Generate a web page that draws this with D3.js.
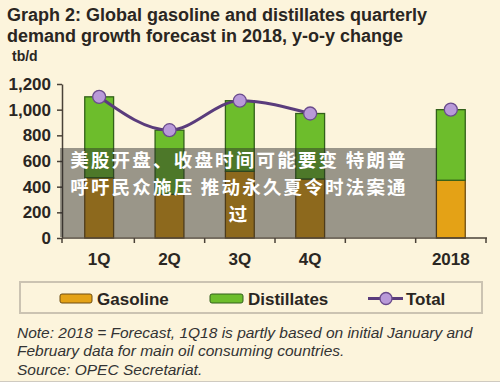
<!DOCTYPE html>
<html>
<head>
<meta charset="utf-8">
<style>
  body { margin: 0; background: #fff; }
  svg { display: block; font-family: "Liberation Sans", Arial, sans-serif; }
  .axis path, .axis line { stroke: #4a4238; stroke-width: 1.5px; }
  .axis text { font-size: 17px; font-weight: bold; fill: #2a2622; }
  .note { font-size: 15.5px; font-style: italic; fill: #333; }
</style>
</head>
<body>
<svg width="500" height="385"></svg>
<script src="https://d3js.org/d3.v7.min.js"></script>
<script>
// data (tb/d, y-o-y change)
var slots = ["1Q", "2Q", "3Q", "4Q", "", "2018"];
var categories = ["1Q", "2Q", "3Q", "4Q", "2018"];
var gasoline = [470, 340, 520, 460, 450];
var distillates = [630, 500, 550, 510, 550];
var total = [1100, 840, 1070, 970, 1000];
var yTicks = [0, 200, 400, 600, 800, 1000, 1200];
var titleLines = ["Graph 2: Global gasoline and distillates quarterly",
                  "demand growth forecast in 2018, y-o-y change"];
var noteLines = ["Note: 2018 = Forecast, 1Q18 is partly based on initial January and",
                 "February data for main oil consuming countries.",
                 "Source: OPEC Secretariat."];
var overlayLines = ["美股开盘、收盘时间可能要变 特朗普",
                    "呼吁民众施压 推动永久夏令时法案通",
                    "过"];

var svg = d3.select("svg");

// background
svg.append("rect").attr("width", 500).attr("height", 381).attr("fill", "#fcf4dc");
svg.append("line").attr("x1", 0).attr("x2", 500).attr("y1", 381.5).attr("y2", 381.5)
    .attr("stroke", "#cfcac0");

// title
svg.append("g").selectAll("text").data(titleLines).enter().append("text")
    .attr("x", 7).attr("y", function(d, i) { return 21 + i * 21; })
    .attr("font-size", 18).attr("font-weight", "bold").attr("fill", "#2a2622")
    .text(function(d) { return d; });

svg.append("text").attr("x", 12).attr("y", 61)
    .attr("font-size", 14).attr("font-weight", "bold").attr("fill", "#2a2622")
    .text("tb/d");

// scales
var x = d3.scaleBand().domain(slots).range([64, 486]).paddingInner(0.59).paddingOuter(0.295);
var y = d3.scaleLinear().domain([0, 1200]).range([238, 84]);

var rows = categories.map(function(c, i) {
    return { cat: c, gas: gasoline[i], dist: distillates[i], total: total[i] };
});

// bars
var bars = svg.append("g");
bars.selectAll(".gas").data(rows).enter().append("rect")
    .attr("x", function(d) { return x(d.cat); })
    .attr("width", x.bandwidth())
    .attr("y", function(d) { return y(d.gas); })
    .attr("height", function(d) { return y(0) - y(d.gas); })
    .attr("fill", "#e4a216").attr("stroke", "#6e4d10").attr("stroke-width", 1.3);
bars.selectAll(".dist").data(rows).enter().append("rect")
    .attr("x", function(d) { return x(d.cat); })
    .attr("width", x.bandwidth())
    .attr("y", function(d) { return y(d.gas + d.dist); })
    .attr("height", function(d) { return y(d.gas) - y(d.gas + d.dist); })
    .attr("fill", "#6dbd2c").attr("stroke", "#32601a").attr("stroke-width", 1.3);

// y axis
svg.append("g").attr("class", "axis")
    .attr("transform", "translate(62,0)")
    .call(d3.axisLeft(y).tickValues(yTicks).tickFormat(d3.format(",")).tickSizeInner(5).tickSizeOuter(0).tickPadding(6));

// x axis: line, boundary ticks, labels
var step = x.step();
var xg = svg.append("g").attr("class", "axis");
xg.append("line").attr("x1", 62).attr("x2", 487).attr("y1", 238).attr("y2", 238);
xg.selectAll(".tk").data(d3.range(slots.length + 1)).enter().append("line")
    .attr("x1", function(i) { return i === 0 ? 62 : x(slots[0]) - (step - x.bandwidth()) / 2 + i * step; })
    .attr("x2", function(i) { return i === 0 ? 62 : x(slots[0]) - (step - x.bandwidth()) / 2 + i * step; })
    .attr("y1", 238).attr("y2", 243);
xg.selectAll("text").data(slots.filter(function(s) { return s; })).enter().append("text")
    .attr("x", function(d) { return x(d) + x.bandwidth() / 2; })
    .attr("y", 265).attr("text-anchor", "middle")
    .text(function(d) { return d; });

// total line (quarters) and markers
var cx = function(d) { return x(d.cat) + x.bandwidth() / 2; };
var line = d3.line().x(cx).y(function(d) { return y(d.total); }).curve(d3.curveMonotoneX);
svg.append("path").datum(rows.slice(0, 4))
    .attr("d", line).attr("fill", "none")
    .attr("stroke", "#5a3c7c").attr("stroke-width", 3);
svg.append("g").selectAll("circle").data(rows).enter().append("circle")
    .attr("cx", cx).attr("cy", function(d) { return y(d.total); })
    .attr("r", 6.5).attr("fill", "#b99ad9").attr("stroke", "#6a4b8c").attr("stroke-width", 1.3);

// legend
var lg = svg.append("g");
lg.append("rect").attr("x", 20).attr("y", 282).attr("width", 462).attr("height", 31)
    .attr("fill", "#fcf4dc").attr("stroke", "#cbc3b2").attr("stroke-width", 2);
lg.append("rect").attr("x", 60).attr("y", 294).attr("width", 32).attr("height", 9).attr("rx", 2)
    .attr("fill", "#e4a216").attr("stroke", "#6e4d10");
lg.append("text").attr("x", 97).attr("y", 305).text("Gasoline");
lg.append("rect").attr("x", 210).attr("y", 294).attr("width", 33).attr("height", 9).attr("rx", 2)
    .attr("fill", "#6dbd2c").attr("stroke", "#32601a");
lg.append("text").attr("x", 248).attr("y", 305).text("Distillates");
lg.append("line").attr("x1", 368).attr("x2", 403).attr("y1", 298.5).attr("y2", 298.5)
    .attr("stroke", "#5a3c7c").attr("stroke-width", 3);
lg.append("circle").attr("cx", 386).attr("cy", 298.5).attr("r", 6)
    .attr("fill", "#b99ad9").attr("stroke", "#6a4b8c").attr("stroke-width", 1.3);
lg.append("text").attr("x", 406).attr("y", 305).text("Total");
lg.selectAll("text").attr("font-size", 17).attr("font-weight", "bold").attr("fill", "#2a2622");

// note
svg.append("g").selectAll("text").data(noteLines).enter().append("text")
    .attr("class", "note")
    .attr("x", 17).attr("y", function(d, i) { return 338 + i * 18.3; })
    .text(function(d) { return d; });

// overlay caption box
svg.append("rect").attr("x", 60).attr("y", 148).attr("width", 377).attr("height", 89)
    .attr("fill", "rgba(40,40,40,0.46)");
svg.append("g").selectAll("text").data(overlayLines).enter().append("text")
    .attr("x", 239).attr("y", function(d, i) { return 167 + i * 27; })
    .attr("text-anchor", "middle")
    .attr("font-family", "'Noto Sans CJK SC', sans-serif")
    .attr("font-size", 18.5).attr("letter-spacing", 2.2)
    .attr("font-weight", "bold").attr("fill", "#fff")
    .text(function(d) { return d; });
</script>
</body>
</html>
